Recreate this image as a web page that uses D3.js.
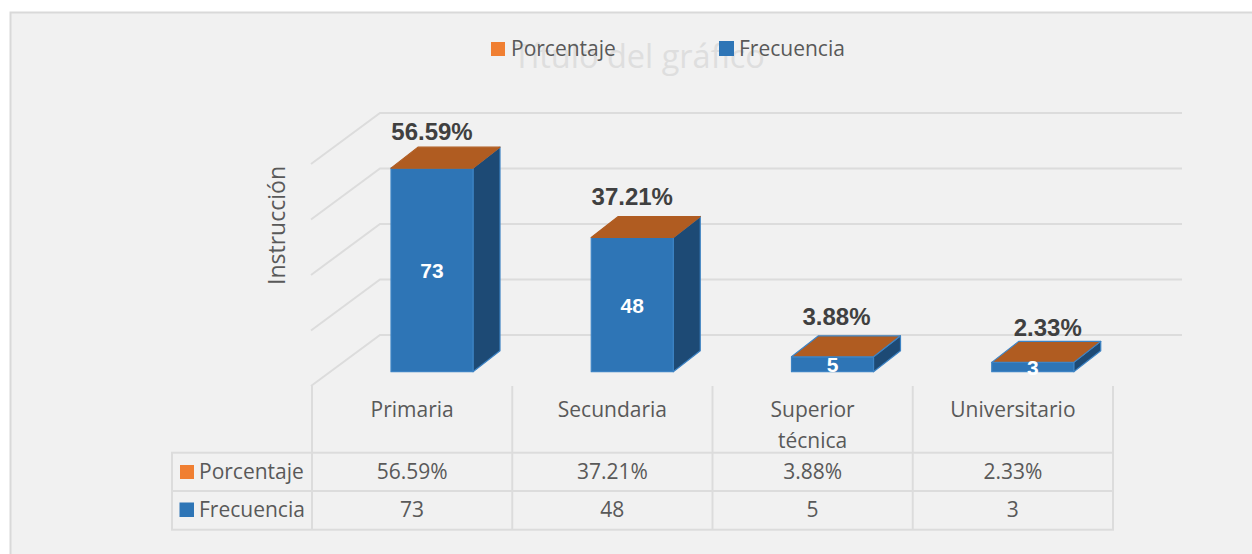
<!DOCTYPE html>
<html><head><meta charset="utf-8">
<script src="https://cdn.jsdelivr.net/npm/d3@7/dist/d3.min.js"></script>
<style>html,body{margin:0;padding:0;background:#fff}svg{display:block}</style>
</head><body><svg id="c" width="1252" height="554"></svg>
<script>
const categories = ["Primaria", "Secundaria", "Superior técnica", "Universitario"];
const frecuencia = [73, 48, 5, 3];
const porcentaje = [56.59, 37.21, 3.88, 2.33];
const seriesNames = ["Porcentaje", "Frecuencia"];
const chartTitle = "Título del gráfico";
const axisTitle = "Instrucción";
const yDomain = [0, 80];

const W = 1252, H = 554;
const colors = {orange:"#f07f32", blue:"#2e75b6", side:"#1d4a75", top:"#b05c21", edge:"#3d83c4", grid:"#dcdcdc", text:"#595959", label:"#404040"};
const uiFont = "'Open Sans', sans-serif", boldFont = "'Liberation Sans', Arial, sans-serif";
const svg = d3.select("#c");

svg.append("rect").attr("x",10.5).attr("y",12.5).attr("width",W).attr("height",H)
  .attr("fill","#f1f1f1").attr("stroke","#d9d9d9").attr("stroke-width",2);

const x = d3.scaleBand().domain(categories).range([312,1113]);
const y = d3.scaleLinear().domain(yDomain).range([371.7,149.7]);
const depth = {dx:27, dy:-21}, wallBack = {dx:0, dy:-36.7}, wallFront = {x:311, dy:14.3}, wallX = 380;
const barOffset = 79, barW = 82;

// walls and gridlines
const gridG = svg.append("g").attr("fill","none").attr("stroke",colors.grid).attr("stroke-width",2);
y.ticks(4).forEach(t=>{
  const yb = y(t)+wallBack.dy;
  gridG.append("polyline").attr("points",`${wallFront.x},${y(t)+wallFront.dy} ${wallX},${yb} 1182,${yb}`);
});

// table
const rowY = [452.7,491,529.7], tableL = 172, tableR = 1113, headTop = 387;
const tb = svg.append("g").attr("stroke",colors.grid).attr("stroke-width",2);
rowY.forEach(r=>tb.append("line").attr("x1",tableL-1).attr("x2",tableR+1).attr("y1",r).attr("y2",r));
tb.append("line").attr("x1",tableL).attr("x2",tableL).attr("y1",rowY[0]).attr("y2",rowY[2]);
[...categories.map(c=>x(c)), tableR].forEach(v=>
  tb.append("line").attr("x1",v).attr("x2",v).attr("y1",headTop-1).attr("y2",rowY[2]));

const txt = (g,s,xx,yy,o={})=>g.append("text").attr("x",xx).attr("y",yy).text(s)
  .attr("font-family",o.family||uiFont).attr("font-size",o.size||21).attr("fill",o.fill||colors.text)
  .attr("text-anchor",o.anchor||"middle").attr("font-weight",o.weight||400);

const t = svg.append("g");
categories.forEach((c,i)=>{
  const cx = x(c)+x.bandwidth()/2;
  const words = c.includes(" ") ? c.split(" ") : [c];
  words.forEach((w,k)=>txt(t,w,cx,417+k*30.5));
  txt(t,porcentaje[i].toFixed(2)+"%",cx,479);
  txt(t,frecuencia[i],cx,517);
});
const swatch = (sx,sy,sw,col)=>svg.append("rect").attr("x",sx).attr("y",sy).attr("width",sw).attr("height",sw).attr("fill",col);
swatch(180,465,14,colors.orange); swatch(179.5,502.5,14.5,colors.blue);
txt(t,seriesNames[0],199,479,{anchor:"start"});
txt(t,seriesNames[1],199,517,{anchor:"start"});

// title and legend
txt(svg,chartTitle,639,68,{size:32.5,fill:"#dedede"});
swatch(491,42,14,colors.orange); swatch(719,41,15,colors.blue);
txt(svg,seriesNames[0],511,56,{anchor:"start"});
txt(svg,seriesNames[1],739,56,{anchor:"start"});
svg.append("text").attr("transform","translate(285,225.5) rotate(-90)").text(axisTitle)
  .attr("font-family",uiFont).attr("font-size",23).attr("fill",colors.text).attr("text-anchor","middle");

// 3D bars: Frecuencia, capped by the hairline Porcentaje top face
const labelNudge = [{x:0,y:7},{x:0,y:12},{x:4,y:11},{x:15,y:5}];
const capLift = 1;
const bars = svg.append("g");
categories.forEach((c,i)=>{
  const x0 = x(c)+barOffset, x1 = x0+barW, base = y(0), top = y(frecuencia[i])-capLift;
  const g = bars.append("g").attr("stroke-width",1.2).attr("stroke-linejoin","round");
  g.append("polygon").attr("fill",colors.side).attr("stroke",colors.edge)
    .attr("points",`${x1},${top} ${x1+depth.dx},${top+depth.dy} ${x1+depth.dx},${base+depth.dy} ${x1},${base}`);
  g.append("rect").attr("x",x0).attr("y",top).attr("width",barW).attr("height",base-top)
    .attr("fill",colors.blue).attr("stroke",colors.edge);
  g.append("polygon").attr("fill",colors.top).attr("stroke",frecuencia[i]<10?colors.edge:colors.top)
    .attr("points",`${x0},${top} ${x1},${top} ${x1+depth.dx},${top+depth.dy} ${x0+depth.dx},${top+depth.dy}`);
  const cx = (x0+x1)/2;
  txt(bars,frecuencia[i],cx,(top+base)/2+8,{family:boldFont,size:21,weight:700,fill:"#fff"});
  txt(bars,porcentaje[i].toFixed(2)+"%",cx+labelNudge[i].x,top+depth.dy-labelNudge[i].y,
    {family:boldFont,size:24,weight:700,fill:colors.label});
});
</script></body></html>
